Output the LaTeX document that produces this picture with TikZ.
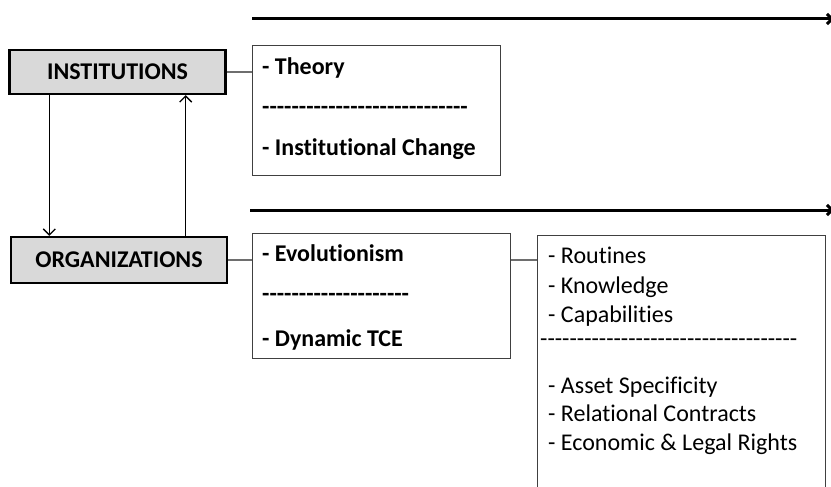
\documentclass[tikz,border=0pt]{standalone}
\usepackage{fontspec}
\setmainfont{Carlito}[Ligatures=NoCommon]
\usetikzlibrary{arrows.meta}
\definecolor{BoxClr}{RGB}{217,217,217}
\definecolor{FrameClr}{RGB}{64,64,64}
\definecolor{LinkClr}{RGB}{110,110,110}
\newcommand{\dashline}[1]{\foreach \n in {1,...,#1}{-}}

\begin{document}
\begin{tikzpicture}[x=1pt,y=-1pt,
  mainbox/.style={draw,line width=2.4pt,fill=BoxClr,inner sep=0pt,
    minimum width=216pt,minimum height=44pt,font=\fontsize{24}{28}\selectfont\bfseries},
  listbox/.style={draw=FrameClr,line width=1.2pt,anchor=north west,inner sep=0pt},
  entry/.style={anchor=west,inner sep=0pt,text height=17pt,text depth=5pt,
    font=\fontsize{24}{28}\selectfont\bfseries},
  item/.style={anchor=west,inner sep=0pt,text height=17pt,text depth=5pt,
    font=\fontsize{24}{28}\selectfont},
  link/.style={line width=1.3pt,color=LinkClr},
  flow/.style={line width=1.3pt,-{Straight Barb[length=6pt,width=12pt]}},
  timeline/.style={line width=3pt,-{Straight Barb[length=5pt,width=10pt]}}]

\useasboundingbox (0,0) rectangle (831,487);

% left column
\node[mainbox] (institutions) at (117.5,72) {INSTITUTIONS};
\node[mainbox,minimum height=46pt] (organizations) at (119,260) {ORGANIZATIONS};

% frames
\node[listbox,minimum width=248pt,minimum height=130pt] (theorybox) at (252,45) {};
\node[listbox,minimum width=258pt,minimum height=125pt] (evolbox) at (252,233) {};
\node[listbox,minimum width=288pt,minimum height=270pt] (factorbox) at (537,235) {};

% upper frame
\node[entry] (theory) at (262,69) {- Theory};
\node[anchor=west,inner sep=0pt,font=\fontsize{24}{28}\selectfont\bfseries] (theorydash) at (262,110) {\dashline{28}};
\node[entry] (change) at (262,150) {- Institutional Change};

% lower frame
\node[entry] (evol) at (262,255) {- Evolutionism};
\node[anchor=west,inner sep=0pt,font=\fontsize{24}{28}\selectfont\bfseries] (evoldash) at (262,297) {\dashline{20}};
\node[entry] (tce) at (262,340) {- Dynamic TCE};

% factors
\node[item] (routines) at (548,257) {- Routines};
\node[item] (knowledge) at (548,287) {- Knowledge};
\node[item] (capab) at (548,316) {- Capabilities};
\node[anchor=west,inner sep=0pt,font=\fontsize{24}{28}\selectfont] (factordash) at (540,343) {\dashline{35}};
\node[item] (asset) at (548,387) {- Asset Specificity};
\node[item] (contracts) at (548,415) {- Relational Contracts};
\node[item] (rights) at (548,444) {- Economic \& Legal Rights};

% links
\draw[link] (institutions.east) -- (institutions.east -| theorybox.west);
\draw[link] (organizations.east) -- (organizations.east -| evolbox.west);
\draw[link] (organizations.east -| evolbox.east) -- (organizations.east -| factorbox.west);

\draw[flow] ([xshift=41pt]institutions.south west) -- ([xshift=41pt]institutions.south west |- organizations.north);
\draw[flow] ([xshift=-41pt]institutions.south east |- organizations.north) -- ([xshift=-41pt]institutions.south east);

% time lines
\coordinate (topstart) at (252,19);
\coordinate (topend) at (834,19);
\coordinate (midstart) at (250,210);
\coordinate (midend) at (834,210);
\draw[timeline] (topstart) -- (topend);
\draw[timeline] (midstart) -- (midend);
\end{tikzpicture}
\end{document}
